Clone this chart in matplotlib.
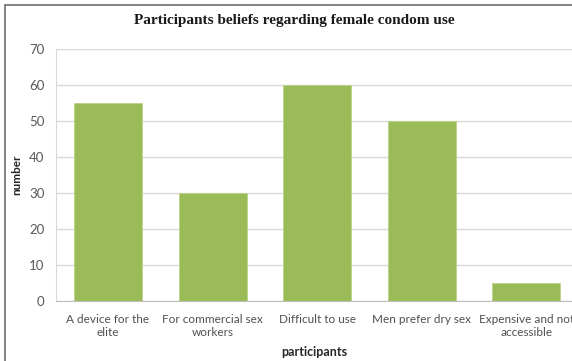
import matplotlib
matplotlib.use("Agg")
import matplotlib.pyplot as plt
from matplotlib.patches import Rectangle

categories = ["A device for the\nelite", "For commercial sex\nworkers", "Difficult to use",
              "Men prefer dry sex", "Expensive and not\naccessible"]
values = [55, 30, 60, 50, 5]
yticks = [0, 10, 20, 30, 40, 50, 60, 70]

title = "Participants beliefs regarding female condom use"
xlabel = "participants"
ylabel = "number"

fig = plt.figure(figsize=(5.72, 3.61), dpi=100)
fig.patch.set_facecolor("white")

# outer chart frame
fig.patches.append(Rectangle((5 / 572, -0.05), 1.2, 1 - 5 / 361 + 0.05,
                             transform=fig.transFigure, fill=False,
                             edgecolor="#6e6e6e", linewidth=1.2))

ax = fig.add_axes([0.0974, 0.167, 0.914, 0.697])
x = range(len(categories))
ax.bar(x, values, width=0.65, color="#9BBB59", edgecolor="#b9d38a", linewidth=0.6, zorder=3)

ax.set_xlim(-0.5, len(categories) - 0.5)
ax.set_ylim(0, 70)
ax.set_yticks(yticks)
ax.set_yticklabels([str(t) for t in yticks])
ax.set_xticks(list(x))
ax.set_xticklabels(categories)

tick_font = "Lato"
for lab in ax.get_yticklabels():
    lab.set_fontfamily(tick_font)
    lab.set_fontsize(9.5)
    lab.set_color("#595959")
for lab in ax.get_xticklabels():
    lab.set_fontfamily(tick_font)
    lab.set_fontsize(8.5)
    lab.set_color("#505050")
    lab.set_linespacing(1.25)

ax.tick_params(axis="both", length=0)
ax.tick_params(axis="y", pad=8)
ax.tick_params(axis="x", pad=9.5)

ax.grid(axis="y", color="#d9d9d9", linewidth=1.0, zorder=0)
for side in ["top", "right"]:
    ax.spines[side].set_visible(False)
ax.spines["left"].set_color("#d9d9d9")
ax.spines["bottom"].set_color("#bfbfbf")

fig.text(0.515, 0.943, title, ha="center", va="center", fontsize=11,
         fontweight="bold", family="Liberation Serif", color="#1a1a1a")
fig.text(0.55, 0.025, xlabel, ha="center", va="center", fontsize=9,
         fontweight="bold", family=tick_font, color="#262626")
fig.text(0.03, 0.515, ylabel, ha="center", va="center", fontsize=8.5,
         fontweight="bold", family=tick_font, color="#262626", rotation=90)

fig.savefig("out.png", dpi=100, facecolor="white")
